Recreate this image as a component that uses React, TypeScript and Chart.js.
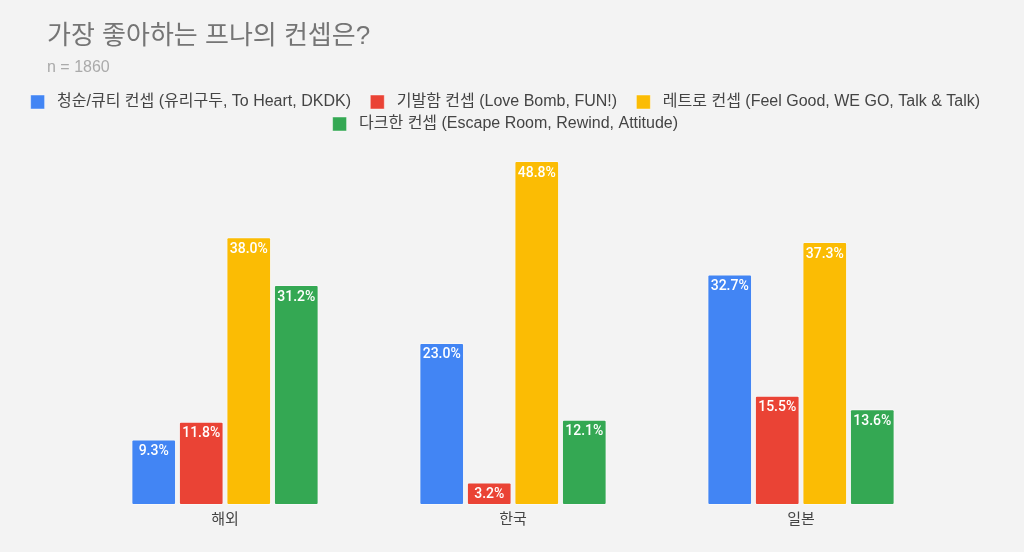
import { Chart, registerables } from "chart.js";
import type { Plugin } from "chart.js";
import { useEffect, useRef } from "react";

Chart.register(...registerables);

const regions = ["해외", "한국", "일본"];
const seriesNames = [
  "청순/큐티 컨셉 (유리구두, To Heart, DKDK)",
  "기발함 컨셉 (Love Bomb, FUN!)",
  "레트로 컨셉 (Feel Good, WE GO, Talk & Talk)",
  "다크한 컨셉 (Escape Room, Rewind, Attitude)",
];
const pureCute = [9.3, 23.0, 32.7];
const quirky = [11.8, 3.2, 15.5];
const retro = [38.0, 48.8, 37.3];
const dark = [31.2, 12.1, 13.6];
const colors = ["#4285F4", "#EA4335", "#FBBC04", "#34A853"];

const titleText = "가장 좋아하는 프나의 컨셉은?";
const subtitleText = "n = 1860";

const SANS = "'Liberation Sans', Arial, 'Noto Sans CJK KR', sans-serif";
const ROBOTO = "Roboto, 'Noto Sans CJK KR', sans-serif";

// white % labels just inside the top of each bar
const barLabels: Plugin<"bar"> = {
  id: "barLabels",
  afterDatasetsDraw(chart) {
    const ctx = chart.ctx;
    ctx.save();
    ctx.fillStyle = "#ffffff";
    ctx.font = `500 14px ${ROBOTO}`;
    ctx.textAlign = "center";
    ctx.textBaseline = "middle";
    chart.data.datasets.forEach((ds, i) => {
      chart.getDatasetMeta(i).data.forEach((bar, j) => {
        const v = ds.data[j] as number;
        ctx.fillText(v.toFixed(1) + "%", bar.x, bar.y + 12);
      });
    });
    ctx.restore();
  },
};

// title + subtitle drawn at the left, independent of legend width
const headings: Plugin<"bar"> = {
  id: "headings",
  afterDraw(chart) {
    const ctx = chart.ctx;
    ctx.save();
    ctx.textAlign = "left";
    ctx.textBaseline = "middle";
    ctx.fillStyle = "#757575";
    ctx.font = `26px ${SANS}`;
    ctx.fillText(titleText, 47, 37);
    ctx.fillStyle = "#aaaaaa";
    ctx.font = `16px ${SANS}`;
    ctx.fillText(subtitleText, 47, 68);
    ctx.restore();
  },
};

const App = () => {
  const chartRef = useRef<HTMLCanvasElement>(null);

  useEffect(() => {
    if (!chartRef.current) return;
    const ctx = chartRef.current.getContext("2d");
    if (!ctx) return;
    const series = [pureCute, quirky, retro, dark];
    const chart = new Chart(ctx, {
      type: "bar",
      data: {
        labels: regions,
        datasets: series.map((d, i) => ({
          label: seriesNames[i],
          data: d,
          backgroundColor: colors[i],
          borderColor: "rgba(255,255,255,0.45)",
          borderWidth: 1,
          borderRadius: 2,
          borderSkipped: false,
          barPercentage: 0.94,
          categoryPercentage: 0.66,
        })),
      },
      options: {
        animation: false,
        responsive: true,
        maintainAspectRatio: false,
        layout: { padding: { left: 18, right: 18, top: 88, bottom: 25 } },
        plugins: {
          title: { display: false },
          legend: {
            position: "top",
            labels: {
              color: "#444444",
              font: { family: SANS, size: 16 },
              boxWidth: 14,
              boxHeight: 14,
              padding: 6,
              generateLabels: (c) =>
                Chart.defaults.plugins.legend.labels
                  .generateLabels(c)
                  .map((item) => ({
                    ...item,
                    text: " " + item.text + "   ",
                  })),
            },
          },
          tooltip: { enabled: false },
        },
        scales: {
          x: {
            grid: { display: false },
            border: { display: false },
            ticks: {
              color: "#444444",
              padding: -2,
              font: { family: SANS, size: 15 },
            },
          },
          y: {
            min: 0,
            max: 51.5,
            ticks: { display: false },
            grid: { display: false },
            border: { display: false },
            afterFit: (scale) => {
              scale.width = 81 - 18;
            },
          },
          y2: {
            position: "right",
            min: 0,
            max: 51.5,
            ticks: { display: false },
            grid: { display: false },
            border: { display: false },
            afterFit: (scale) => {
              scale.width = 1024 - 18 - 945;
            },
          },
        },
      },
      plugins: [barLabels, headings],
    });
    return () => chart.destroy();
  }, []);

  return (
    <div
      style={{
        position: "absolute",
        left: 0,
        top: 0,
        width: 1024,
        height: 552,
        background: "#f3f3f3",
      }}
    >
      <canvas ref={chartRef}></canvas>
    </div>
  );
};

export default App;
